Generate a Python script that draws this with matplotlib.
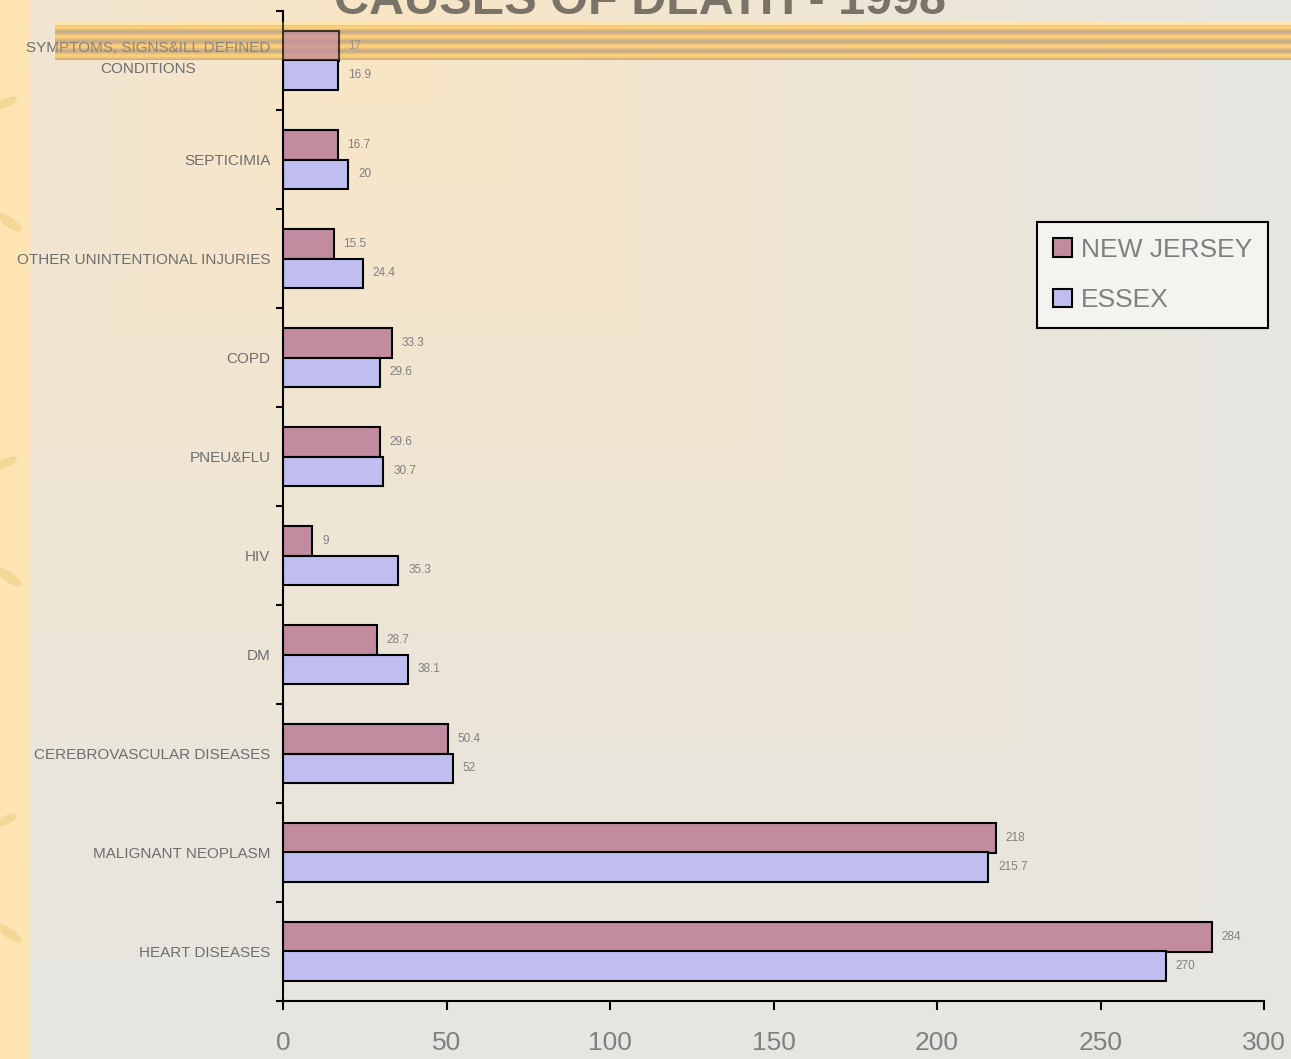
import numpy as np
import matplotlib.pyplot as plt
import matplotlib.transforms as mtransforms
from matplotlib.patches import Ellipse

plt.rcParams['font.family'] = ['Liberation Sans', 'DejaVu Sans']

# data, bottom category first
categories = ['HEART DISEASES', 'MALIGNANT NEOPLASM', 'CEREBROVASCULAR DISEASES',
              'DM', 'HIV', 'PNEU&FLU', 'COPD', 'OTHER UNINTENTIONAL INJURIES',
              'SEPTICIMIA', 'SYMPTOMS, SIGNS&ILL DEFINED\nCONDITIONS']
new_jersey = [284, 218, 50.4, 28.7, 9, 29.6, 33.3, 15.5, 16.7, 17]
essex = [270, 215.7, 52, 38.1, 35.3, 30.7, 29.6, 24.4, 20, 16.9]
xticks = [0, 50, 100, 150, 200, 250, 300]

W, H = 1291, 1059
fig = plt.figure(figsize=(W / 100, H / 100), dpi=100)

# slide background: warm gradient, orange strip on the left
yy, xx = np.mgrid[0:H, 0:W]
t = np.maximum(np.abs(xx - 380) / 900.0, np.abs(yy - 40) / 1000.0)
t = np.clip(t, 0, 1) ** 0.8
c0 = np.array([250, 230, 196]) / 255.0
c1 = np.array([230, 229, 225]) / 255.0
img = c0 * (1 - t[..., None]) + c1 * t[..., None]
img[:, :30] = np.array([255, 229, 180]) / 255.0

bg = fig.add_axes([0, 0, 1, 1], zorder=-10)
bg.imshow(img, extent=[0, W, H, 0], aspect='auto', interpolation='bilinear')
for yc in [103, 463, 820]:
    bg.add_patch(Ellipse((6, yc), 24, 9, angle=-25, color='#F2D797', lw=0))
for yc in [222, 577, 933]:
    bg.add_patch(Ellipse((9, yc), 30, 10, angle=35, color='#F2D797', lw=0))
bg.set_xlim(0, W)
bg.set_ylim(H, 0)
bg.axis('off')

fig.text(640 / W, 1 - 14 / H, 'CAUSES OF DEATH - 1998', ha='center', va='baseline',
         fontsize=35, fontweight='bold', color='#7A7468')

# golden band across the top
rows = np.arange(38)
w = 0.5 + 0.5 * np.cos(rows / 9.5 * 2 * np.pi)
gold = np.array([255, 208, 118]) / 255.0
tan = np.array([198, 172, 138]) / 255.0
prof = gold * (1 - w[:, None]) + tan * w[:, None]
prof[:3] = np.array([255, 230, 176]) / 255.0
band = np.ones((38, 2, 4))
band[:, :, :3] = prof[:, None, :]
band_rect = [55 / W, 1 - 60 / H, (W - 55) / W, 38 / H]
bax = fig.add_axes(band_rect, zorder=-5)
bax.imshow(band, aspect='auto', interpolation='bilinear')
bax.axis('off')

# chart
ax = fig.add_axes([283 / W, 1 - 1001 / H, 981 / W, 990 / H])
ax.set_facecolor('none')
y = np.arange(len(categories))
h = 0.3
ax.barh(y + h / 2, new_jersey, height=h, color='#C38BA0', edgecolor='black',
        linewidth=1.5, label='NEW JERSEY')
ax.barh(y - h / 2, essex, height=h, color='#C0BEF0', edgecolor='black',
        linewidth=1.5, label='ESSEX')

for i in range(len(categories)):
    ax.text(new_jersey[i] + 3, y[i] + h / 2, '{:g}'.format(new_jersey[i]),
            va='center', ha='left', fontsize=8.5, color='#808080')
    ax.text(essex[i] + 3, y[i] - h / 2, '{:g}'.format(essex[i]),
            va='center', ha='left', fontsize=8.5, color='#808080')

ax.set_xlim(0, 300)
ax.set_ylim(-0.5, len(categories) - 0.5)
ax.set_xticks(xticks)
ax.set_xticklabels([str(v) for v in xticks])
ax.tick_params(axis='x', labelsize=19, labelcolor='#808080', color='black',
               width=1.5, length=6.5, pad=15)

ax.set_yticks(np.arange(-0.5, len(categories), 1))
ax.set_yticklabels([])
ax.set_yticks(y, minor=True)
ax.set_yticklabels(categories, minor=True)
ax.tick_params(axis='y', which='major', color='black', width=1.5, length=5)
ax.tick_params(axis='y', which='minor', length=0, pad=9, labelsize=11,
               labelcolor='#6E6E6E')
for lab in ax.get_yticklabels(minor=True):
    lab.set_multialignment('center')
    lab.set_linespacing(1.65)
# two-line label sits a little higher in the original
top_lab = ax.yaxis.get_minor_ticks()[len(categories) - 1].label1
top_lab.set_transform(top_lab.get_transform() +
                      mtransforms.ScaledTranslation(0, 7 / 100, fig.dpi_scale_trans))

for s in ['top', 'right']:
    ax.spines[s].set_visible(False)
for s in ['left', 'bottom']:
    ax.spines[s].set_linewidth(1.5)

leg = ax.legend(loc='upper right', bbox_to_anchor=(1268 / W, 1 - 222 / H),
                bbox_transform=fig.transFigure, fontsize=19, frameon=True,
                fancybox=False, framealpha=1, handlelength=0.7, handleheight=0.7,
                handletextpad=0.35, labelspacing=1.0, borderpad=0.6,
                borderaxespad=0)
leg.get_frame().set_facecolor('#F4F3EF')
leg.get_frame().set_edgecolor('black')
leg.get_frame().set_linewidth(1.5)
for txt in leg.get_texts():
    txt.set_color('#808080')

# faint copy of the band over the chart so the stripes show through
over = band.copy()
over[:, :, 3] = 0.3
oax = fig.add_axes(band_rect, zorder=5)
oax.imshow(over, aspect='auto', interpolation='bilinear')
oax.axis('off')

fig.savefig('out.png', dpi=100)
